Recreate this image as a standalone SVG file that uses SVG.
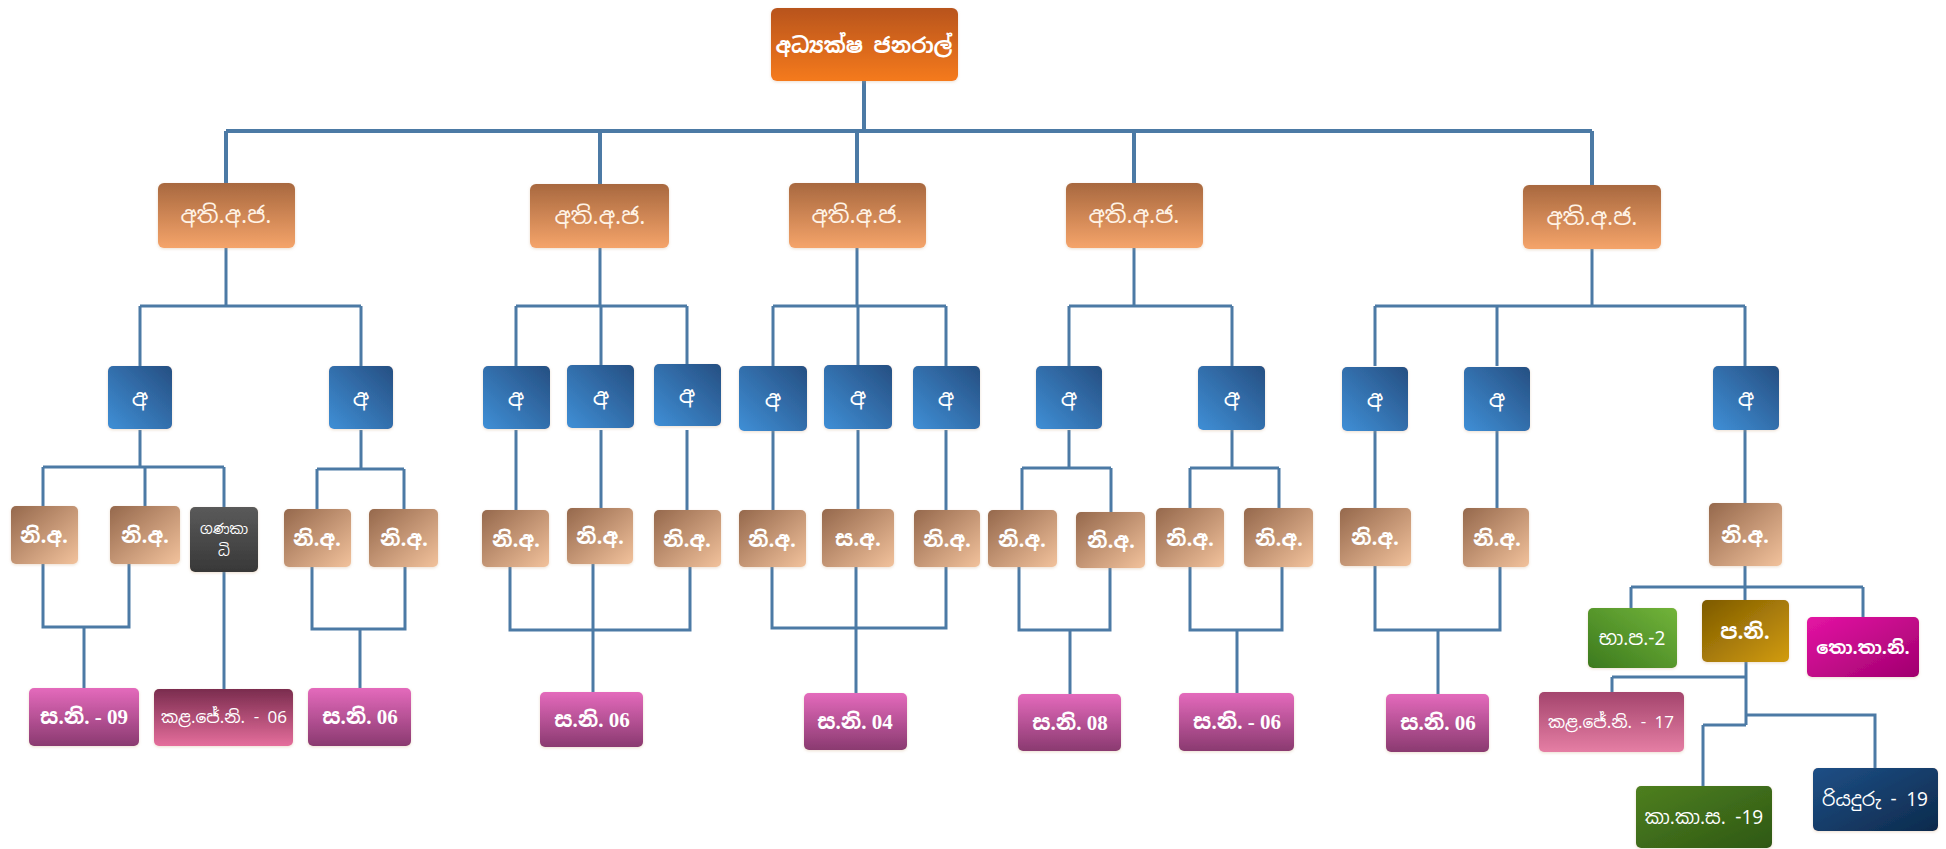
<svg xmlns="http://www.w3.org/2000/svg" width="1946" height="849" viewBox="0 0 1946 849">
<defs>
<linearGradient id="gRoot" x1="0" y1="0" x2="0" y2="1"><stop offset="0" stop-color="#b8541c"/><stop offset="1" stop-color="#f57a1f"/></linearGradient>
<linearGradient id="gL2" x1="0" y1="0" x2="0" y2="1"><stop offset="0" stop-color="#a8683f"/><stop offset="1" stop-color="#f5a46a"/></linearGradient>
<linearGradient id="gBlue" x1="1" y1="0" x2="0" y2="1"><stop offset="0" stop-color="#264f82"/><stop offset="1" stop-color="#3f8fd6"/></linearGradient>
<linearGradient id="gTan" x1="0" y1="0" x2="1" y2="1"><stop offset="0" stop-color="#95684c"/><stop offset="1" stop-color="#f2c29c"/></linearGradient>
<linearGradient id="gGrey" x1="0" y1="0" x2="0" y2="1"><stop offset="0" stop-color="#5a5a5a"/><stop offset="1" stop-color="#383838"/></linearGradient>
<linearGradient id="gPink" x1="0" y1="0" x2="0" y2="1"><stop offset="0" stop-color="#e46abc"/><stop offset="1" stop-color="#8a3a70"/></linearGradient>
<linearGradient id="gPinkR" x1="0" y1="0" x2="0" y2="1"><stop offset="0" stop-color="#7a2c4e"/><stop offset="1" stop-color="#e56e9c"/></linearGradient>
<linearGradient id="gRose" x1="0" y1="0" x2="0" y2="1"><stop offset="0" stop-color="#a4456d"/><stop offset="1" stop-color="#e57ea4"/></linearGradient>
<linearGradient id="gGreen" x1="1" y1="0" x2="0" y2="1"><stop offset="0" stop-color="#72b43a"/><stop offset="1" stop-color="#3c7a1e"/></linearGradient>
<linearGradient id="gGold" x1="0" y1="0" x2="1" y2="1"><stop offset="0" stop-color="#7d5a00"/><stop offset="1" stop-color="#d29c10"/></linearGradient>
<linearGradient id="gMag" x1="0" y1="0" x2="1" y2="1"><stop offset="0" stop-color="#e414a4"/><stop offset="1" stop-color="#a0006e"/></linearGradient>
<linearGradient id="gDGreen" x1="0" y1="0" x2="1" y2="1"><stop offset="0" stop-color="#4e7f20"/><stop offset="1" stop-color="#2e5814"/></linearGradient>
<linearGradient id="gNavy" x1="0" y1="0" x2="1" y2="1"><stop offset="0" stop-color="#1e4f86"/><stop offset="1" stop-color="#0d2a4c"/></linearGradient>
<filter id="sh" x="-20%" y="-20%" width="140%" height="140%"><feDropShadow dx="0" dy="1" stdDeviation="1.5" flood-color="#c9a27a" flood-opacity="0.35"/></filter>
</defs>
<style>
.c{fill:none;stroke:#4c7aa5;stroke-width:3}
.c0{fill:none;stroke:#4c7aa5;stroke-width:4}
rect{filter:url(#sh)}
text{fill:#ffffff;font-family:"Noto Sans Sinhala","Iskoola Pota","Noto Sans","DejaVu Sans",sans-serif;font-size:21px;text-anchor:middle;dominant-baseline:central}
.l2 text{fill:#fff3e6;font-size:23px}
.bl text{font-size:23px}
.tp text{font-weight:bold}
.pk text{font-family:"Liberation Serif","Noto Sans Sinhala","Noto Sans",serif;font-weight:bold;font-size:21px}
.pk text.sm{font-family:"Noto Sans Sinhala","Noto Sans",sans-serif;font-weight:normal;font-size:17px}
.acc text{font-weight:normal;font-size:14px}
.sm16{font-size:17px}
.s19{font-size:19px}
.s18b{font-size:18px;font-weight:bold}
.b{font-weight:bold}
</style>
<g id="connectors">
<path class="c0" d="M864,81V131M226,131H1592M226,131V183M600,131V184M857,131V183M1134,131V183M1592,131V188"/>
<path class="c" d="M226,248V306M140,306H361M140,306V366M361,306V366"/>
<path class="c" d="M600,248V306M516,306H687M516,306V366M601,306V366M687,306V366"/>
<path class="c" d="M857,248V306M773,306H946M773,306V366M858,306V366M946,306V366"/>
<path class="c" d="M1134,248V306M1069,306H1232M1069,306V366M1232,306V366"/>
<path class="c" d="M1592,248V306M1375,306H1745M1375,306V366M1497,306V366M1745,306V366"/>
<path class="c" d="M140,430V467M43,467H224M43,467V506M145,467V506M224,467V507"/>
<path class="c" d="M361,430V469M317,469H404M317,469V509M404,469V509"/>
<path class="c" d="M516,430V510M601,430V508M687,430V510M773,430V510M858,430V510M946,430V510"/>
<path class="c" d="M1069,430V468M1022,468H1111M1022,468V510M1111,468V512"/>
<path class="c" d="M1232,430V468M1190,468H1279M1190,468V508M1279,468V508"/>
<path class="c" d="M1375,430V508M1497,430V508M1745,430V503"/>
<path class="c" d="M43,564V627H129V564M84,627V688"/>
<path class="c" d="M224,572V689"/>
<path class="c" d="M312,567V629H405V567M360,629V688"/>
<path class="c" d="M510,567V630H690V567M593,564V692"/>
<path class="c" d="M772,567V628H946V567M856,567V693"/>
<path class="c" d="M1019,567V630H1110V568M1070,630V694"/>
<path class="c" d="M1190,567V630H1282V567M1237,630V693"/>
<path class="c" d="M1375,566V630H1500V567M1438,630V694"/>
<path class="c" d="M1745,566V587M1631,587H1863M1631,587V608M1745,587V600M1863,587V617"/>
<path class="c" d="M1746,662V725M1612,677H1746M1612,677V692M1746,715H1875V768M1703,725H1746M1703,725V786"/>
</g>
<g id="root"><rect x="771" y="8" width="187" height="73" rx="6" fill="url(#gRoot)"/><text x="864" y="45" class="b">අධ්‍යක්ෂ ජනරාල්</text></g>
<g class="l2">
<g id="aadg1"><rect x="158" y="183" width="137" height="65" rx="6" fill="url(#gL2)"/><text x="226" y="215">අති.අ.ජ.</text></g>
<g id="aadg2"><rect x="530" y="184" width="139" height="64" rx="6" fill="url(#gL2)"/><text x="600" y="216">අති.අ.ජ.</text></g>
<g id="aadg3"><rect x="789" y="183" width="137" height="65" rx="6" fill="url(#gL2)"/><text x="857" y="215">අති.අ.ජ.</text></g>
<g id="aadg4"><rect x="1066" y="183" width="137" height="65" rx="6" fill="url(#gL2)"/><text x="1134" y="215">අති.අ.ජ.</text></g>
<g id="aadg5"><rect x="1523" y="185" width="138" height="64" rx="6" fill="url(#gL2)"/><text x="1592" y="217">අති.අ.ජ.</text></g>
</g>
<g class="bl">
<g id="d1"><rect x="108" y="366" width="64" height="63" rx="5" fill="url(#gBlue)"/><text x="140" y="398">අ</text></g>
<g id="d2"><rect x="329" y="366" width="64" height="63" rx="5" fill="url(#gBlue)"/><text x="361" y="398">අ</text></g>
<g id="d3"><rect x="483" y="366" width="67" height="63" rx="5" fill="url(#gBlue)"/><text x="516" y="398">අ</text></g>
<g id="d4"><rect x="567" y="365" width="67" height="63" rx="5" fill="url(#gBlue)"/><text x="601" y="397">අ</text></g>
<g id="d5"><rect x="654" y="364" width="67" height="62" rx="5" fill="url(#gBlue)"/><text x="687" y="395">අ</text></g>
<g id="d6"><rect x="739" y="366" width="68" height="65" rx="5" fill="url(#gBlue)"/><text x="773" y="399">අ</text></g>
<g id="d7"><rect x="824" y="365" width="68" height="64" rx="5" fill="url(#gBlue)"/><text x="858" y="397">අ</text></g>
<g id="d8"><rect x="913" y="366" width="67" height="63" rx="5" fill="url(#gBlue)"/><text x="946" y="398">අ</text></g>
<g id="d9"><rect x="1036" y="366" width="66" height="63" rx="5" fill="url(#gBlue)"/><text x="1069" y="398">අ</text></g>
<g id="d10"><rect x="1198" y="366" width="67" height="64" rx="5" fill="url(#gBlue)"/><text x="1232" y="398">අ</text></g>
<g id="d11"><rect x="1342" y="367" width="66" height="64" rx="5" fill="url(#gBlue)"/><text x="1375" y="399">අ</text></g>
<g id="d12"><rect x="1464" y="367" width="66" height="64" rx="5" fill="url(#gBlue)"/><text x="1497" y="399">අ</text></g>
<g id="d13"><rect x="1713" y="366" width="66" height="64" rx="5" fill="url(#gBlue)"/><text x="1746" y="398">අ</text></g>
</g>
<g class="tp">
<g id="t1"><rect x="11" y="506" width="67" height="58" rx="5" fill="url(#gTan)"/><text x="44" y="535">නි.අ.</text></g>
<g id="t2"><rect x="110" y="506" width="70" height="58" rx="5" fill="url(#gTan)"/><text x="145" y="535">නි.අ.</text></g>
<g id="t3"><rect x="284" y="509" width="67" height="58" rx="5" fill="url(#gTan)"/><text x="317" y="538">නි.අ.</text></g>
<g id="t4"><rect x="369" y="509" width="69" height="58" rx="5" fill="url(#gTan)"/><text x="404" y="538">නි.අ.</text></g>
<g id="t5"><rect x="482" y="510" width="67" height="57" rx="5" fill="url(#gTan)"/><text x="516" y="539">නි.අ.</text></g>
<g id="t6"><rect x="567" y="508" width="66" height="56" rx="5" fill="url(#gTan)"/><text x="600" y="536">නි.අ.</text></g>
<g id="t7"><rect x="654" y="510" width="67" height="57" rx="5" fill="url(#gTan)"/><text x="687" y="539">නි.අ.</text></g>
<g id="t8"><rect x="739" y="510" width="67" height="57" rx="5" fill="url(#gTan)"/><text x="772" y="539">නි.අ.</text></g>
<g id="t9"><rect x="822" y="509" width="72" height="58" rx="5" fill="url(#gTan)"/><text x="858" y="538">ස.අ.</text></g>
<g id="t10"><rect x="914" y="510" width="66" height="57" rx="5" fill="url(#gTan)"/><text x="947" y="539">නි.අ.</text></g>
<g id="t11"><rect x="988" y="510" width="69" height="57" rx="5" fill="url(#gTan)"/><text x="1022" y="539">නි.අ.</text></g>
<g id="t12"><rect x="1076" y="512" width="69" height="56" rx="5" fill="url(#gTan)"/><text x="1111" y="540">නි.අ.</text></g>
<g id="t13"><rect x="1156" y="508" width="68" height="59" rx="5" fill="url(#gTan)"/><text x="1190" y="538">නි.අ.</text></g>
<g id="t14"><rect x="1244" y="508" width="69" height="59" rx="5" fill="url(#gTan)"/><text x="1279" y="538">නි.අ.</text></g>
<g id="t15"><rect x="1340" y="508" width="71" height="58" rx="5" fill="url(#gTan)"/><text x="1375" y="537">නි.අ.</text></g>
<g id="t16"><rect x="1463" y="508" width="66" height="59" rx="5" fill="url(#gTan)"/><text x="1497" y="538">නි.අ.</text></g>
<g id="t17"><rect x="1709" y="503" width="73" height="63" rx="5" fill="url(#gTan)"/><text x="1745" y="535">නි.අ.</text></g>
</g>
<g id="acc" class="acc"><rect x="190" y="507" width="68" height="65" rx="5" fill="url(#gGrey)"/><text x="224" y="529">ගණකා</text><text x="224" y="551">ධි</text></g>
<g class="pk">
<g id="p1"><rect x="29" y="688" width="110" height="58" rx="5" fill="url(#gPink)"/><text x="84" y="717">ස.නි. - 09</text></g>
<g id="p2"><rect x="154" y="689" width="139" height="57" rx="5" fill="url(#gPinkR)"/><text x="224" y="717" class="sm">කළ.ජේ.නි. - 06</text></g>
<g id="p3"><rect x="308" y="688" width="103" height="58" rx="5" fill="url(#gPink)"/><text x="360" y="717">ස.නි. 06</text></g>
<g id="p4"><rect x="540" y="692" width="103" height="55" rx="5" fill="url(#gPink)"/><text x="592" y="720">ස.නි. 06</text></g>
<g id="p5"><rect x="804" y="693" width="103" height="57" rx="5" fill="url(#gPink)"/><text x="855" y="722">ස.නි. 04</text></g>
<g id="p6"><rect x="1018" y="694" width="103" height="57" rx="5" fill="url(#gPink)"/><text x="1070" y="723">ස.නි. 08</text></g>
<g id="p7"><rect x="1179" y="693" width="115" height="58" rx="5" fill="url(#gPink)"/><text x="1237" y="722">ස.නි. - 06</text></g>
<g id="p8"><rect x="1386" y="694" width="103" height="58" rx="5" fill="url(#gPink)"/><text x="1438" y="723">ස.නි. 06</text></g>
</g>
<g id="bhapa"><rect x="1588" y="608" width="89" height="60" rx="5" fill="url(#gGreen)"/><text x="1632" y="638" class="s19">භා.ප.-2</text></g>
<g id="pani"><rect x="1702" y="600" width="87" height="62" rx="5" fill="url(#gGold)"/><text x="1745" y="631" class="b">ප.නි.</text></g>
<g id="thothani"><rect x="1807" y="617" width="112" height="60" rx="5" fill="url(#gMag)"/><text x="1863" y="647" class="s18b">තො.තා.නි.</text></g>
<g id="kalajeni17"><rect x="1539" y="692" width="145" height="60" rx="5" fill="url(#gRose)"/><text x="1611" y="722" class="sm16">කළ.ජේ.නි. - 17</text></g>
<g id="kakasa"><rect x="1636" y="786" width="136" height="62" rx="5" fill="url(#gDGreen)"/><text x="1704" y="817" class="s19">කා.කා.ස. -19</text></g>
<g id="riyaduru"><rect x="1813" y="768" width="125" height="63" rx="5" fill="url(#gNavy)"/><text x="1875" y="799" class="s19">රියදුරු  - 19</text></g>
</svg>
